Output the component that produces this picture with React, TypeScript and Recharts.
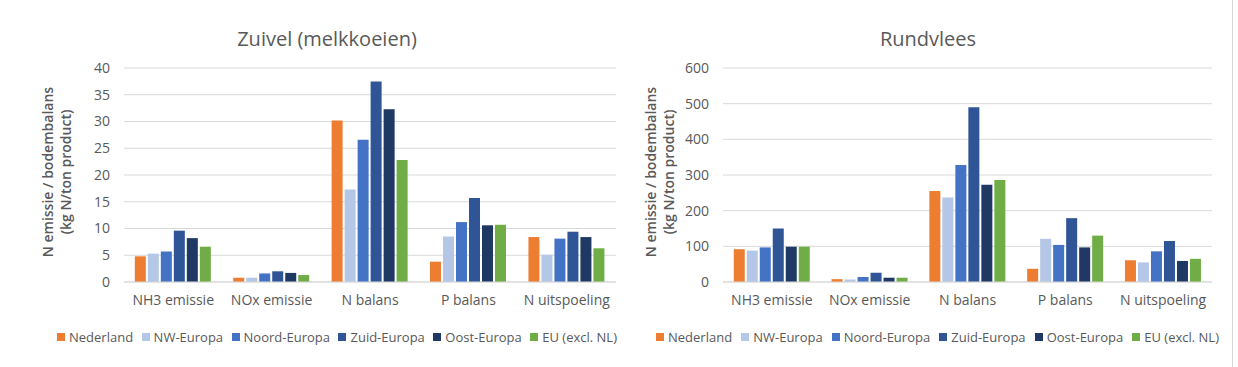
import React from 'react';
import { BarChart, Bar, XAxis, YAxis, CartesianGrid } from 'recharts';

const categories = ['NH3 emissie', 'NOx emissie', 'N balans', 'P balans', 'N uitspoeling'];
const regions = ['Nederland', 'NW-Europa', 'Noord-Europa', 'Zuid-Europa', 'Oost-Europa', 'EU (excl. NL)'];
const regionColors = ['#ED7D31', '#B4C7E7', '#4472C4', '#2F5597', '#1F3864', '#70AD47'];

// values per region, in category order
const zuivelValues = [
  [4.8, 0.8, 30.2, 3.8, 8.4],
  [5.3, 0.8, 17.3, 8.5, 5.1],
  [5.7, 1.6, 26.6, 11.2, 8.1],
  [9.6, 2.0, 37.5, 15.7, 9.4],
  [8.2, 1.7, 32.3, 10.6, 8.4],
  [6.6, 1.3, 22.8, 10.7, 6.3],
];
const zuivelTicks = [0, 5, 10, 15, 20, 25, 30, 35, 40];

const rundvleesValues = [
  [92, 8, 255, 37, 61],
  [88, 7, 237, 121, 55],
  [97, 14, 328, 104, 86],
  [150, 26, 490, 179, 115],
  [99, 12, 273, 97, 59],
  [99, 12, 286, 130, 65],
];
const rundvleesTicks = [0, 100, 200, 300, 400, 500, 600];

const FONT = '"Open Sans", sans-serif';
const GREY = '#595959';

const buildRows = (values: number[][]) =>
  categories.map((name, i) => {
    const row: Record<string, string | number> = { name };
    values.forEach((series, r) => {
      row[`r${r}`] = series[i];
    });
    return row;
  });

interface PanelProps {
  title: string;
  titleX: number;
  values: number[][];
  ticks: number[];
  marginLeft: number;
  marginRight: number;
  labelX: number;
  legendLeft: number;
  legendWidth: number;
}

const Panel: React.FC<PanelProps> = ({ title, titleX, values, ticks, marginLeft, marginRight, labelX, legendLeft, legendWidth }) => {
  const data = buildRows(values);
  const yLabel = () => (
    <g fill={GREY} fontFamily={FONT} fontWeight={600} fontSize={14}>
      <text transform={`translate(${labelX}, 172) rotate(-90)`} textAnchor="middle" dominantBaseline="central">
        N emissie / bodembalans
      </text>
      <text transform={`translate(${labelX + 18}, 172) rotate(-90)`} textAnchor="middle" dominantBaseline="central">
        (kg N/ton product)
      </text>
    </g>
  );

  return (
    <div style={{ position: 'relative', width: 620, height: 367 }}>
      <div
        style={{
          position: 'absolute',
          top: 25,
          left: titleX - 150,
          width: 300,
          textAlign: 'center',
          fontFamily: FONT,
          fontSize: 20,
          color: GREY,
        }}
      >
        {title}
      </div>
      <BarChart
        width={620}
        height={367}
        data={data}
        margin={{ top: 68, right: marginRight, bottom: 55, left: marginLeft }}
        barCategoryGap="11%"
        barGap={2}
      >
        <CartesianGrid vertical={false} stroke="#d9d9d9" />
        <XAxis
          dataKey="name"
          height={30}
          tickLine={false}
          axisLine={{ stroke: '#d9d9d9' }}
          tick={{ fill: GREY, fontSize: 14, fontFamily: FONT }}
          tickMargin={7}
        />
        <YAxis
          width={40}
          domain={[ticks[0], ticks[ticks.length - 1]]}
          ticks={ticks}
          interval={0}
          tickLine={false}
          axisLine={false}
          tick={{ fill: GREY, fontSize: 14, fontFamily: FONT }}
          tickMargin={8}
          label={{ content: yLabel }}
        />
        {regions.map((r, i) => (
          <Bar key={r} dataKey={`r${i}`} name={r} fill={regionColors[i]} isAnimationActive={false} />
        ))}
      </BarChart>
      <div
        style={{
          position: 'absolute',
          top: 328,
          left: legendLeft,
          width: legendWidth,
          display: 'flex',
          justifyContent: 'space-between',
          fontFamily: FONT,
          fontSize: 13,
          color: GREY,
        }}
      >
        {regions.map((r, i) => (
          <span key={r} style={{ display: 'flex', alignItems: 'center', whiteSpace: 'nowrap' }}>
            <span style={{ display: 'inline-block', width: 8, height: 8, background: regionColors[i], marginRight: 4 }} />
            {r}
          </span>
        ))}
      </div>
    </div>
  );
};

export default function App() {
  return (
    <div style={{ position: 'absolute', left: 0, top: 0, width: 1238, height: 367, background: '#fff', overflow: 'hidden' }}>
      <div style={{ position: 'absolute', left: 0, top: 0 }}>
        <Panel
          title="Zuivel (melkkoeien)"
          titleX={327}
          values={zuivelValues}
          ticks={zuivelTicks}
          marginLeft={84}
          marginRight={4}
          labelX={47}
          legendLeft={57}
          legendWidth={560}
        />
      </div>
      <div style={{ position: 'absolute', left: 620, top: 0 }}>
        <Panel
          title="Rundvlees"
          titleX={308}
          values={rundvleesValues}
          ticks={rundvleesTicks}
          marginLeft={63}
          marginRight={28}
          labelX={30}
          legendLeft={36}
          legendWidth={563}
        />
      </div>
      <div style={{ position: 'absolute', left: 1232, top: 0, width: 1, height: 367, background: '#d6d6d6' }} />
    </div>
  );
}
